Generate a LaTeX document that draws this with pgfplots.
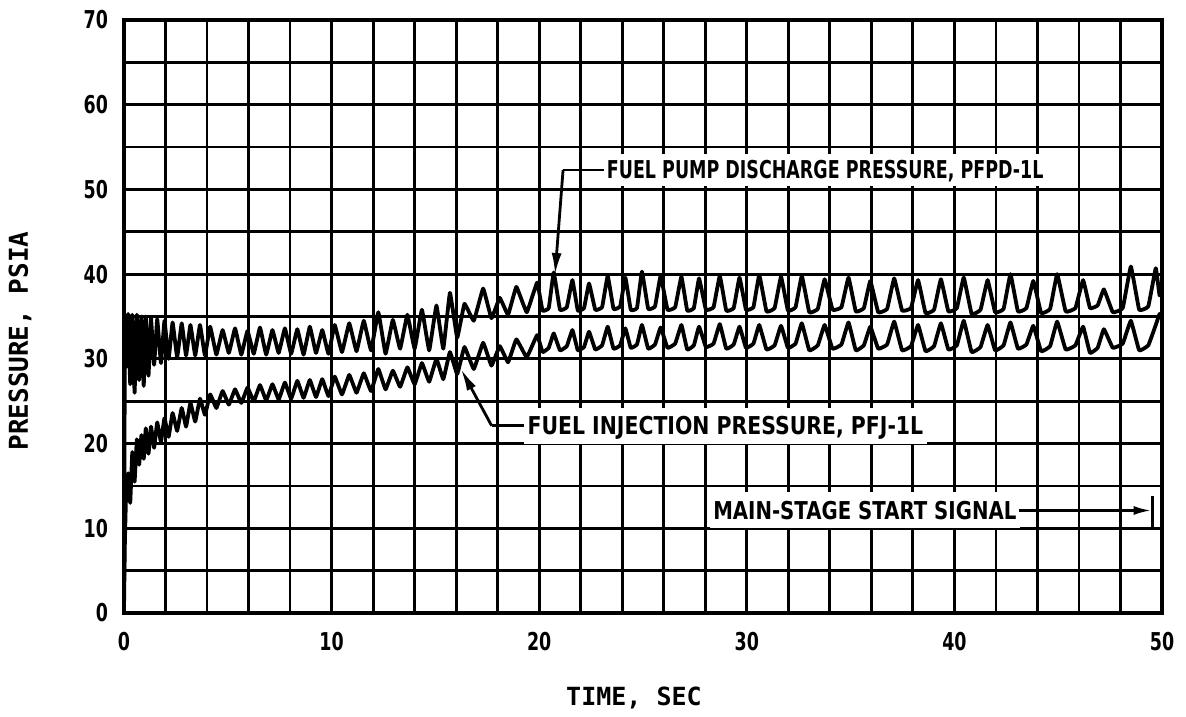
\documentclass[border=0pt]{standalone}
\usepackage{fontspec}
\usepackage{graphicx}
\usepackage{pgfplots}
\pgfplotsset{compat=1.18}
\usepackage{pgfplotstable}
\usetikzlibrary{arrows.meta}
\newfontfamily\lab{DejaVu Sans}[FakeStretch=0.71]
\newfontfamily\axl{DejaVu Sans Mono}
\newcommand\labfont{\lab\bfseries\fontsize{12.3bp}{14bp}\selectfont}
\newcommand\xaxfont{\axl\bfseries\fontsize{12.5bp}{14bp}\selectfont}
\newcommand\yaxfont{\axl\bfseries\fontsize{13bp}{15bp}\selectfont}

\pgfplotstableread{
t top bot
0.00 0.5 0.5
0.04 31.0 8.0
0.10 29.0 14.0
0.20 35.3 16.5
0.30 27.0 13.0
0.40 35.2 19.0
0.51 26.0 15.5
0.62 35.2 20.5
0.73 27.5 17.5
0.84 35.0 21.0
0.95 26.8 18.2
1.05 35.0 21.8
1.18 28.0 18.8
1.30 34.8 22.0
1.45 29.3 19.5
1.60 34.7 22.5
1.78 29.5 20.2
1.95 34.5 23.0
2.15 30.0 20.8
2.34 34.3 23.6
2.56 30.2 21.5
2.78 34.2 24.2
2.99 30.4 22.0
3.20 34.0 24.8
3.43 30.4 22.6
3.66 34.0 25.3
3.90 30.4 23.4
4.15 33.8 25.8
4.45 30.5 24.2
4.75 33.4 26.2
5.05 30.7 24.6
5.35 33.6 26.4
5.65 30.5 24.8
5.95 33.3 26.6
6.25 30.6 25.0
6.55 33.7 26.9
6.85 30.5 25.1
7.15 33.4 27.0
7.45 30.7 25.2
7.75 33.6 27.2
8.05 30.6 25.3
8.35 33.5 27.4
8.65 30.5 25.4
8.95 33.8 27.5
9.25 30.7 25.5
9.55 33.4 27.6
9.85 30.6 25.6
10.15 34.0 27.9
10.50 30.8 25.8
10.85 34.2 28.1
11.20 30.9 26.0
11.55 34.5 28.3
11.90 31.0 26.2
12.25 35.5 28.8
12.60 30.6 26.4
12.95 34.6 28.6
13.30 31.2 26.7
13.65 35.2 29.0
14.00 31.2 27.0
14.35 35.8 29.5
14.70 31.0 27.3
15.05 36.3 30.0
15.38 31.2 27.6
15.70 37.8 30.8
16.05 32.5 28.2
16.40 36.5 31.4
16.85 34.5 28.8
17.30 38.3 31.9
17.70 34.8 29.2
18.10 37.2 31.5
18.50 35.2 29.6
18.90 38.5 32.3
19.40 35.5 30.2
19.90 39.0 32.8
20.16 35.7 30.8
20.46 36.0 31.3
20.70 40.2 33.0
21.00 35.8 31.0
21.33 36.1 31.5
21.60 39.3 33.4
21.86 35.7 31.0
22.16 36.0 31.4
22.40 38.9 33.2
22.70 35.8 31.1
23.03 36.1 31.6
23.30 39.8 33.8
23.58 35.9 31.2
23.90 36.2 31.6
24.15 39.6 33.6
24.41 35.8 31.3
24.71 36.0 31.7
24.95 40.3 34.0
25.25 35.9 31.2
25.58 36.2 31.7
25.85 39.8 33.7
26.18 35.8 31.3
26.55 36.1 31.8
26.85 39.7 34.0
27.13 35.7 31.1
27.45 36.0 31.6
27.70 39.5 33.8
28.03 35.8 31.4
28.40 36.1 31.8
28.70 39.8 34.1
29.01 35.7 31.2
29.37 36.0 31.7
29.65 39.6 33.8
29.96 35.8 31.3
30.32 36.1 31.8
30.60 39.9 34.0
30.95 35.6 31.1
31.34 36.0 31.6
31.65 39.7 33.9
31.98 35.7 31.3
32.35 36.1 31.8
32.65 39.8 34.2
33.01 35.5 31.0
33.42 35.9 31.6
33.75 39.4 34.0
34.13 35.8 31.2
34.56 36.1 31.7
34.90 39.6 34.3
35.25 35.6 31.0
35.64 36.0 31.6
35.95 39.2 33.8
36.33 35.5 31.2
36.76 35.9 31.7
37.10 39.5 34.4
37.48 35.7 31.0
37.91 36.0 31.5
38.25 39.3 34.0
38.61 35.4 30.9
39.02 35.8 31.5
39.35 39.4 34.2
39.71 35.6 31.1
40.12 36.0 31.6
40.45 39.6 34.5
40.83 35.3 30.8
41.26 35.8 31.4
41.60 39.3 34.0
41.96 35.5 31.0
42.37 35.9 31.6
42.70 40.0 34.3
43.06 35.6 31.2
43.47 36.0 31.7
43.80 39.2 33.9
44.18 35.4 30.9
44.61 35.9 31.5
44.95 40.0 34.4
45.36 35.6 31.1
45.83 36.0 31.6
46.20 39.3 33.8
46.53 36.0 30.7
46.90 36.3 31.3
47.20 38.2 33.5
47.63 35.5 31.3
48.11 36.0 31.8
48.50 40.9 34.5
48.90 35.8 31.0
49.34 36.2 31.6
49.70 40.7 34.0
49.88 37.5 35.3
50.00 38.0 34.8
}\data

\begin{document}
\begin{tikzpicture}
\begin{axis}[
  at={(62bp,52bp)}, anchor=south west,
  scale only axis, width=519bp, height=296.5bp,
  xmin=0, xmax=50, ymin=0, ymax=70,
  xtick={0,10,...,50}, ytick={0,10,...,70},
  minor xtick={0,2,...,50}, minor ytick={0,5,...,70},
  grid=both,
  major grid style={black, line width=1.4bp},
  minor grid style={black, line width=1.4bp},
  major tick length=0pt, minor tick length=0pt,
  axis line style={black, line width=2.2bp},
  /pgf/number format/assume math mode=true,
  tick label style={font=\labfont},
  xticklabel style={yshift=-6bp},
  yticklabel style={xshift=-4.5bp},
  xlabel={TIME, SEC}, ylabel={PRESSURE, PSIA},
  xlabel style={font=\xaxfont, at={(axis description cs:0.4913,-0.1428)}, anchor=center},
  ylabel style={font=\yaxfont, at={(axis description cs:-0.1002,0.4587)}, anchor=center},
]
\addplot[black, line width=1.9bp, line join=round, smooth, tension=0.15] table[x=t, y=top] {\data};
\addplot[black, line width=1.9bp, line join=round, smooth, tension=0.15] table[x=t, y=bot] {\data};

\draw[black, line width=1.4bp] (axis cs:21.15,52.3) -- (axis cs:23.1,52.3);
\draw[black, line width=1.4bp, -{Latex[length=11bp,width=5bp]}] (axis cs:21.15,52.3) -- (axis cs:20.76,39.9);
\node[fill=white, inner xsep=1.5bp, inner ysep=3.5bp, text height=9bp, text depth=0bp, anchor=west, font=\labfont] at (axis cs:23.1,52.3) {FUEL PUMP DISCHARGE PRESSURE, PFPD-1L};

\draw[black, line width=1.4bp] (axis cs:17.71,22.1) -- (axis cs:19.25,22.1);
\draw[black, line width=1.4bp, -{Latex[length=11bp,width=5bp]}] (axis cs:17.71,22.1) -- (axis cs:16.23,28.8);
\node[fill=white, inner xsep=1.5bp, inner ysep=4.5bp, text height=9bp, text depth=0bp, anchor=west, xscale=1.17, font=\labfont] at (axis cs:19.25,22.1) {FUEL INJECTION PRESSURE, PFJ-1L};

\node[fill=white, inner xsep=1.5bp, inner ysep=4.5bp, text height=9bp, text depth=0bp, anchor=west, xscale=1.13, font=\labfont] at (axis cs:28.2,12.1) {MAIN-STAGE START SIGNAL};
\draw[black, line width=1.4bp, -{Latex[length=9bp,width=4.5bp]}] (axis cs:43.1,12.1) -- (axis cs:49.5,12.1);
\draw[black, line width=1.4bp] (axis cs:49.55,9.9) -- (axis cs:49.55,13.8);
\end{axis}
\pgfresetboundingbox
\path[use as bounding box] (0,0) rectangle (593bp,358.5bp);
\end{tikzpicture}
\end{document}
